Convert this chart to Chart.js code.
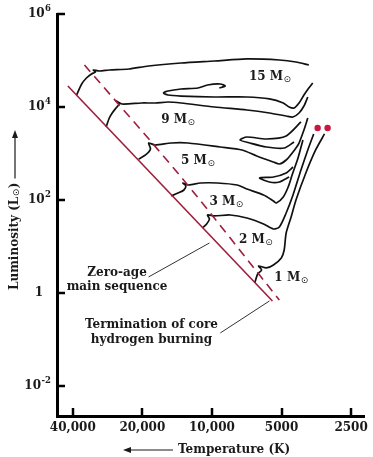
<!DOCTYPE html>
<html>
<head>
<meta charset="utf-8">
<script src="https://cdn.jsdelivr.net/npm/chart.js@4.4.0/dist/chart.umd.min.js"></script>
<style>
  html, body { margin: 0; padding: 0; background: #fff; }
  #wrap { width: 373px; height: 457px; position: relative; }
</style>
</head>
<body>
<div id="wrap"><canvas id="hr"></canvas></div>
<script>
// axis ticks
var tempTicks = [40000, 20000, 10000, 5000, 2500];
var tempLabels = ['40,000', '20,000', '10,000', '5000', '2500'];
var lumTicks = [1e-2, 1, 1e2, 1e4, 1e6];

// zero-age main sequence / termination of core H burning
var zamsT = [42000, 5475];
var zamsL = [28300, 0.673];
var tamsT = [35600, 13600, 5110];
var tamsL = [80000, 312, 0.707];

// evolutionary tracks (T in K, L in Lsun)
var m15T = [38500, 36600, 34900, 33200, 31900, 32600, 30700, 27800, 22900, 18800, 13600, 9760, 7060, 5110, 4330, 3810];
var m15L = [18100, 31200, 42000, 51300, 56600, 62500, 59400, 62500, 65600, 76200, 88300, 97500, 108000, 102500, 92800, 80000];
var m15loopT = [9290, 8760, 9200, 10450, 11500, 13600, 15500, 16200, 15500, 13600, 9760, 7060, 5640, 4915, 4635, 4415, 4200, 4000, 3810, 3665];
var m15loopL = [25600, 28300, 31200, 29700, 25600, 24400, 22100, 20000, 18100, 17200, 16400, 16400, 14900, 12200, 10000, 9510, 12200, 18100, 25600, 32800];
var m9T = [28700, 27800, 27000, 26000, 25200, 26000, 24500, 20150, 17600, 15500, 13600, 9760, 7060, 5640, 4775, 4460, 4200, 4000, 3850];
var m9L = [3710, 5800, 7430, 9510, 11600, 13500, 11600, 12200, 12200, 12800, 12200, 10000, 8610, 7430, 6400, 6090, 7430, 10500, 16400];
var m5T = [20750, 19370, 18450, 18800, 17600, 15000, 12700, 9200, 7410, 6400, 5420, 5110, 4775, 4460, 4200, 4000, 3850];
var m5L = [762, 929, 1250, 1680, 1520, 1680, 1680, 1380, 1190, 883, 656, 595, 724, 1080, 1680, 3200, 5800];
var m5loopT = [4120, 4775, 5810, 7060, 7560, 6860, 5810, 4870, 4415];
var m5loopL = [4760, 2380, 2050, 2260, 1950, 1680, 1380, 1310, 1770];
var m3T = [15000, 14020, 13220, 12970, 13350, 12590, 11200, 9470, 7790, 7060, 5980, 5420, 5260, 4915, 4680, 4500, 4243, 4040];
var m3L = [122, 141, 164, 200, 232, 210, 232, 232, 210, 172, 128, 95.2, 86.1, 116, 190, 345, 800, 1950];
var m3loopT = [4460, 4775, 5420, 6220, 5640, 5110, 4635];
var m3loopL = [512, 381, 312, 297, 244, 244, 312];
var m2T = [11000, 10540, 10250, 10450, 9760, 8340, 7060, 5980, 5420, 5110, 4775, 4460, 4120, 3850, 3630];
var m2L = [25.0, 30.5, 39.0, 47.6, 45.3, 47.6, 41.0, 30.5, 23.8, 26.3, 52.5, 128, 442, 1190, 2630];
var m1T = [6530, 6340, 6100, 6280, 5810, 5420, 5010, 4870, 4775, 4545, 4330, 3925, 3560, 3260];
var m1L = [1.64, 2.56, 3.12, 3.81, 3.45, 4.00, 5.66, 8.41, 19.5, 43.1, 100, 381, 1190, 2630];

// red giant tips
var starT = [3490, 3160];
var starL = [3540, 3540];

// mass labels
var massNames = ['15', '9', '5', '3', '2', '1'];
var massLabelT = [6920, 16560, 13600, 10250, 7640, 5370];
var massLabelL = [44200, 5250, 700, 90.6, 13.8, 2.10];

// annotation text and leader lines
var zamsNote = ['Zero-age', 'main sequence'];
var zamsNoteT = 25740, zamsNoteL = [2.69, 1.35];
var zamsLeadT = [18800, 10250];
var zamsLeadL = [2.21, 11.9];
var tamsNote = ['Termination of core', 'hydrogen burning'];
var tamsNoteT = 18270, tamsNoteL = [0.205, 0.0976];
var tamsLeadT = [9200, 5640];
var tamsLeadL = [0.138, 0.673];

function pts(T, L) {
    return T.map(function(t, i) { return { x: t, y: L[i] }; });
}

var redLine = '#9e1f3d';
var serif = '"DejaVu Serif", serif';

function track(T, L) {
    return { data: pts(T, L), showLine: true, borderColor: '#111', borderWidth: 1.7,
             pointRadius: 0, tension: 0.25, fill: false };
}

var datasets = [
    { data: pts(zamsT, zamsL), showLine: true, borderColor: redLine, borderWidth: 1.6, pointRadius: 0 },
    { data: pts(tamsT, tamsL), showLine: true, borderColor: redLine, borderWidth: 1.6, pointRadius: 0,
      borderDash: [9, 6], tension: 0.3 },
    track(m15T, m15L), track(m15loopT, m15loopL),
    track(m9T, m9L),
    track(m5T, m5L), track(m5loopT, m5loopL),
    track(m3T, m3L), track(m3loopT, m3loopL),
    track(m2T, m2L),
    track(m1T, m1L),
    { data: pts(zamsLeadT, zamsLeadL), showLine: true, borderColor: '#333', borderWidth: 1, pointRadius: 0 },
    { data: pts(tamsLeadT, tamsLeadL), showLine: true, borderColor: '#333', borderWidth: 1, pointRadius: 0 },
    { data: pts(starT, starL), showLine: false, pointRadius: 3.2, pointBackgroundColor: '#c8183f',
      pointBorderWidth: 0 }
];

// inner ticks, labels and axis titles
var extras = {
    id: 'extras',
    afterDraw: function(chart) {
        var ctx = chart.ctx, xs = chart.scales.x, ys = chart.scales.y, a = chart.chartArea;
        ctx.save();
        ctx.strokeStyle = '#000';
        ctx.lineWidth = 2.5;
        lumTicks.forEach(function(v) {
            var py = Math.round(ys.getPixelForValue(v));
            ctx.beginPath(); ctx.moveTo(a.left, py); ctx.lineTo(a.left + 8, py); ctx.stroke();
        });
        tempTicks.forEach(function(v) {
            var px = Math.round(xs.getPixelForValue(v));
            ctx.beginPath(); ctx.moveTo(px, a.bottom); ctx.lineTo(px, a.bottom - 8); ctx.stroke();
        });

        ctx.fillStyle = '#1a1a1a';
        ctx.strokeStyle = '#1a1a1a';
        ctx.textBaseline = 'middle';

        // y tick labels: 10 with raised exponent
        lumTicks.forEach(function(v) {
            var py = ys.getPixelForValue(v);
            var e = Math.round(Math.log10(v));
            if (e === 0) {
                ctx.font = 'bold 12px ' + serif;
                ctx.textAlign = 'center';
                ctx.fillText('1', 39, py);
                return;
            }
            var ex = e < 0 ? '-' + (-e) : String(e);
            ctx.font = 'bold 8.5px ' + serif;
            ctx.textAlign = 'right';
            ctx.fillText(ex, 51, py - 5);
            var we = ctx.measureText(ex).width;
            ctx.font = 'bold 12px ' + serif;
            ctx.fillText('10', 51 - we - 0.5, py);
        });

        ctx.textAlign = 'left';
        massNames.forEach(function(n, i) {
            var px = xs.getPixelForValue(massLabelT[i]), py = ys.getPixelForValue(massLabelL[i]);
            ctx.font = 'bold 12px ' + serif;
            var s = n + ' M';
            ctx.fillText(s, px, py);
            var w = ctx.measureText(s).width;
            ctx.font = '9px "DejaVu Sans"';
            ctx.fillText('\u2299', px + w + 0.5, py + 3);
        });

        ctx.font = 'bold 12px ' + serif;
        ctx.textAlign = 'center';
        zamsNote.forEach(function(s, i) {
            ctx.fillText(s, xs.getPixelForValue(zamsNoteT), ys.getPixelForValue(zamsNoteL[i]));
        });
        tamsNote.forEach(function(s, i) {
            ctx.fillText(s, xs.getPixelForValue(tamsNoteT), ys.getPixelForValue(tamsNoteL[i]));
        });

        // x title
        ctx.textAlign = 'left';
        ctx.fillText('Temperature (K)', 178, 450);
        ctx.lineWidth = 1.2;
        ctx.beginPath(); ctx.moveTo(173, 450); ctx.lineTo(126, 450); ctx.stroke();
        ctx.beginPath(); ctx.moveTo(123, 450); ctx.lineTo(131, 447); ctx.lineTo(131, 453); ctx.closePath(); ctx.fill();

        // y title
        ctx.save();
        ctx.translate(15, 290);
        ctx.rotate(-Math.PI / 2);
        ctx.font = 'bold 12px ' + serif;
        var s1 = 'Luminosity (L';
        ctx.fillText(s1, 0, 0);
        var w1 = ctx.measureText(s1).width;
        ctx.font = '9px "DejaVu Sans"';
        ctx.fillText('\u2299', w1 + 0.5, 2);
        var w2 = ctx.measureText('\u2299').width;
        ctx.font = 'bold 12px ' + serif;
        ctx.fillText(')', w1 + w2 + 1, 0);
        var end = w1 + w2 + 1 + ctx.measureText(')').width;
        ctx.beginPath(); ctx.moveTo(end + 4, 0); ctx.lineTo(157, 0); ctx.stroke();
        ctx.beginPath(); ctx.moveTo(160, 0); ctx.lineTo(152, -3); ctx.lineTo(152, 3); ctx.closePath(); ctx.fill();
        ctx.restore();

        ctx.restore();
    }
};

new Chart(document.getElementById('hr'), {
    type: 'scatter',
    data: { datasets: datasets },
    plugins: [extras],
    options: {
        responsive: true,
        maintainAspectRatio: false,
        animation: false,
        layout: { padding: { top: 14, right: 3, left: 0, bottom: 0 } },
        plugins: { legend: { display: false }, tooltip: { enabled: false } },
        scales: {
            x: {
                type: 'logarithmic',
                reverse: true,
                min: 2180,
                max: 46800,
                afterBuildTicks: function(scale) {
                    scale.ticks = tempTicks.map(function(v) { return { value: v }; });
                },
                afterFit: function(scale) { scale.height = 41; },
                grid: { display: false, drawTicks: false },
                border: { display: true, color: '#000', width: 3 },
                ticks: {
                    autoSkip: false, maxRotation: 0, padding: 5, color: '#1a1a1a',
                    font: { family: serif, size: 12, weight: 'bold' },
                    callback: function(v) { return tempLabels[tempTicks.indexOf(v)]; }
                }
            },
            y: {
                type: 'logarithmic',
                min: 0.00226,
                max: 1e6,
                afterBuildTicks: function(scale) {
                    scale.ticks = lumTicks.map(function(v) { return { value: v }; });
                },
                afterFit: function(scale) { scale.width = 57; },
                grid: { display: false, drawTicks: false },
                border: { display: true, color: '#000', width: 3 },
                ticks: { display: false }
            }
        }
    }
});
</script>
</body>
</html>
